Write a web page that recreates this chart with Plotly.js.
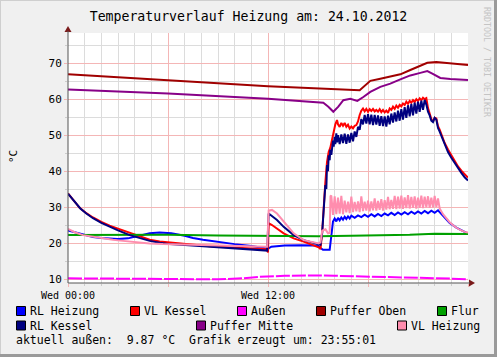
<!DOCTYPE html>
<html>
<head>
<meta charset="utf-8">
<script src="https://cdn.plot.ly/plotly-3.0.1.min.js"></script>
<style>
html,body{margin:0;padding:0;background:#F0F0F0;}
#chart{width:497px;height:357px;}
</style>
</head>
<body>
<div id="chart"></div>
<script>
// ---------- data (hours since Wed 00:00, °C) ----------
const seriesNames = ["RL Heizung","VL Kessel","Außen","Puffer Oben","Flur","RL Kessel","Puffer Mitte","VL Heizung"];
const seriesColors = ["#0000FF","#FF0000","#FF00FF","#A00000","#00A000","#000080","#880088","#FF8DAE"];

const tRlHeizung = [0,0.5,1,1.5,2,2.5,3,3.6,4.2,4.9,5.5,6.2,7,7.5,8.1,8.7,9.4,10,11,11.9,12.0,12.2,13,14,15.0,15.15,15.3,15.7,15.78,15.85,
  15.9,16.0,16.1,16.2,16.3,16.4,16.5,16.6,16.7,16.8,16.9,17.0,17.2,17.4,17.6,17.8,18.0,18.2,18.4,18.6,18.8,19.0,19.2,19.4,19.6,19.8,
  20.0,20.2,20.4,20.6,20.8,21.0,21.2,21.4,21.6,21.8,22.0,22.2,22.35,22.6,22.9,23.3,23.7,24.0];
const rlHeizung = [23.5,22.9,22.2,21.7,21.4,21.2,21.1,21.3,22.0,22.7,22.9,22.7,22.0,21.4,20.9,20.5,20.1,19.7,19.2,18.6,18.4,19.0,19.3,19.4,19.3,18.6,18.1,18.1,21.5,25.4,
  26.0,26.8,26.0,27.0,26.3,27.1,26.5,27.3,26.7,27.4,26.8,27.6,27.0,27.7,27.2,27.9,27.3,28.0,27.4,28.1,27.5,28.2,27.7,28.4,27.8,28.5,
  27.9,28.6,28.0,28.7,28.1,28.8,28.2,28.9,28.3,29.0,28.4,29.1,28.3,26.9,25.6,24.3,23.2,22.6];

const tVlKessel = [0,0.3,0.7,1.1,1.5,2.0,2.5,3.0,3.7,4.3,4.9,5.5,6.1,6.8,7.5,8.5,9.6,11.0,11.9,12.0,12.04,12.24,12.54,12.94,13.54,14.14,15.04,15.15,15.25,15.34,15.44,15.54,15.64,15.74,15.84,15.94,
  16.04,16.14,16.2,16.3,16.4,16.5,16.6,16.7,16.8,16.9,17.0,17.1,17.2,17.3,17.4,17.5,17.6,17.7,17.8,17.9,18.0,18.1,18.2,18.3,18.4,18.5,18.6,18.7,18.8,18.9,
  19.0,19.1,19.2,19.3,19.4,19.5,19.6,19.7,19.8,19.9,20.0,20.1,20.2,20.3,20.4,20.5,20.6,20.7,20.8,20.9,21.0,21.1,21.2,21.3,21.4,21.5,21.6,21.7,21.8,21.9,
  22.0,22.1,22.2,22.3,22.4,22.6,22.8,23.0,23.2,23.4,23.6,23.8,24.0];
const vlKessel = [33.8,32.0,29.8,28.3,27.1,25.9,24.8,24.0,22.9,21.8,20.9,20.4,20.1,19.8,19.5,19.1,18.8,18.6,18.3,17.4,25.5,25.0,24.1,22.7,21.3,20.4,18.8,18.3,23.0,31.0,36.8,42.5,45.3,46.5,48.5,51.4,
  53.0,54.2,53.0,52.3,53.4,52.6,53.4,52.3,52.9,51.8,52.4,51.9,52.6,52.8,53.8,55.6,56.8,57.4,56.6,57.3,56.5,57.2,56.7,57.3,56.6,57.0,56.5,57.2,56.4,57.0,
  56.3,56.8,56.2,57.4,57.0,57.9,57.3,58.2,57.6,58.4,58.0,58.8,58.4,59.3,58.7,59.5,59.0,59.7,59.2,60.0,59.5,60.2,59.7,60.4,60.0,60.3,57.5,56.0,54.5,53.8,
  54.8,54.6,52.5,51.5,50.2,47.8,46.0,44.3,42.8,41.3,40.1,39.0,38.2];

const tAussen = [0,2,4,6,9,10.5,11.5,13,14,15,16,17,18,20,22,23,24];
const aussen  = [10.2,10.1,10.0,9.9,9.9,10.2,10.6,10.9,11.0,11.0,10.9,10.8,10.6,10.5,10.3,10.1,9.87];

const tPufferOben = [0,6,12,17.5,17.7,18.14,18.74,19.34,19.94,20.54,21.14,21.56,22.1,22.9,24];
const pufferOben  = [66.9,65.3,63.6,62.5,63.4,65.1,65.7,66.4,66.9,68.1,69.2,70.1,70.3,69.9,69.5];

const tFlur = [0,3,6,9,12,15,17,19,20.5,22,24];
const flur  = [22.2,22.3,22.3,22.1,21.9,21.9,22.0,22.1,22.3,22.6,22.5];

const tRlKessel = [0,0.3,0.74,1.1,1.5,2.0,2.5,3.0,3.7,4.3,4.9,5.5,6.1,6.8,7.5,8.5,9.6,11.0,11.95,12.04,12.15,12.54,12.94,13.54,14.14,15.04,15.15,15.25,15.34,15.4,15.44,15.5,15.54,15.6,15.64,15.7,15.74,15.8,15.84,15.9,15.94,
  16.0,16.04,16.1,16.14,16.2,16.3,16.4,16.5,16.6,16.7,16.8,16.9,17.0,17.1,17.2,17.3,17.4,17.5,17.6,17.7,17.8,17.9,18.0,18.1,18.2,18.3,18.4,18.5,18.6,18.7,18.8,18.9,
  19.0,19.1,19.2,19.3,19.4,19.5,19.6,19.7,19.8,19.9,20.0,20.1,20.2,20.3,20.4,20.5,20.6,20.7,20.8,20.9,21.0,21.1,21.2,21.3,21.4,21.5,21.6,21.7,21.8,21.9,
  22.0,22.1,22.2,22.3,22.4,22.6,22.8,23.0,23.2,23.4,23.6,23.8,24.0];
const rlKessel = [33.7,31.9,29.6,28.2,26.9,25.6,24.5,23.5,22.2,21.3,20.6,20.1,19.7,19.5,19.3,18.9,18.5,18.2,17.9,28.2,27.8,26.4,24.5,22.2,20.8,19.7,19.5,22.8,30.6,33.5,36.1,35.0,41.7,40.0,44.4,43.0,46.0,44.5,47.2,48.5,46.8,
  49.5,47.5,50.5,48.0,50.0,47.5,50.2,47.8,50.4,47.6,50.2,47.9,50.6,48.3,51.0,49.5,52.3,51.5,54.5,53.0,55.6,53.2,55.8,53.0,55.7,52.8,55.6,52.9,55.5,52.6,55.3,52.5,
  55.2,52.4,55.4,53.0,56.0,53.5,56.3,53.8,56.8,54.0,57.2,54.3,57.8,54.8,58.3,55.2,58.7,55.5,59.0,56.0,59.3,56.5,59.6,57.0,59.8,58.5,56.5,55.5,54.0,53.6,
  54.8,54.3,52.0,51.0,49.8,47.2,45.3,43.7,42.2,40.7,39.5,38.3,37.4];

const tPufferMitte = [0,6,12,15.0,15.32,15.62,15.92,16.22,16.52,16.94,17.36,17.72,18.14,18.74,19.34,19.94,20.54,21.14,21.56,21.86,22.34,22.94,24];
const pufferMitte  = [62.7,61.6,60.1,59.1,59.0,57.9,56.5,57.9,59.7,60.1,59.5,60.6,62.0,63.4,64.3,65.5,66.6,67.3,67.8,67.1,65.9,65.6,65.3];

const tVlHeizung = [0,0.4,0.9,1.5,2.1,2.7,3.3,4.1,4.9,5.7,6.5,7.6,8.7,10.1,11.95,12.04,12.24,12.54,12.94,13.54,14.14,15.04,15.15,15.25,15.45,15.6,15.7,15.75,
  15.8,15.9,16.0,16.1,16.2,16.3,16.4,16.5,16.6,16.7,16.8,16.9,17.0,17.1,17.2,17.3,17.4,17.5,17.6,17.7,17.8,17.9,18.0,18.1,18.2,18.3,18.4,18.5,18.6,18.7,18.8,18.9,
  19.0,19.1,19.2,19.3,19.4,19.5,19.6,19.7,19.8,19.9,20.0,20.1,20.2,20.3,20.4,20.5,20.6,20.7,20.8,20.9,21.0,21.1,21.2,21.3,21.4,21.5,21.6,21.7,21.8,21.9,
  22.0,22.1,22.2,22.3,22.5,22.7,22.9,23.2,23.5,23.8,24.0];
const vlHeizung = [23.9,23.0,22.2,21.7,21.3,20.9,20.6,20.2,19.9,19.7,19.6,19.5,19.4,19.2,19.0,29.0,29.2,28.2,25.9,22.7,20.8,19.9,20.2,23.4,23.8,22.7,22.8,33.0,
  33.2,27.8,33.0,28.0,32.6,28.2,33.1,28.0,31.8,28.5,31.5,28.3,32.9,28.6,31.4,28.8,31.6,28.6,33.0,28.9,31.5,29.0,31.8,28.8,31.6,29.1,32.4,29.0,31.7,29.2,32.2,29.0,
  31.9,29.3,32.8,29.4,32.0,29.5,33.1,29.4,32.9,29.6,33.2,29.5,32.7,29.7,33.3,29.6,32.8,29.8,33.0,29.6,32.6,29.8,33.2,29.7,32.9,29.9,33.0,29.8,32.6,29.9,
  33.1,30.0,32.4,29.6,28.0,26.8,25.8,24.6,23.7,23.1,22.9];

const xTickVals = [0,6,12,18,24];
const xTickText = ["Wed 00:00","","Wed 12:00","",""];
const yTickVals = [10,20,30,40,50,60,70];
const titleText = "Temperaturverlauf Heizung am: 24.10.2012";
const yLabel = "°C";
const footerText = "aktuell außen:  9.87 °C  Grafik erzeugt um: 23:55:01";
const watermark = "RRDTOOL / TOBI OETIKER";

// ---------- geometry ----------
const L = 68, T = 33, W = 400, H = 250, FW = 497, FH = 357;
const px = x => (x - L) / W;
const py = y => (T + H - y) / H;
const MONO = "DejaVu Sans Mono, monospace";

const xs = [tRlHeizung,tVlKessel,tAussen,tPufferOben,tFlur,tRlKessel,tPufferMitte,tVlHeizung];
const ys = [rlHeizung,vlKessel,aussen,pufferOben,flur,rlKessel,pufferMitte,vlHeizung];

const traces = seriesNames.map((n,i) => ({
  type: "scatter", mode: "lines", name: n, x: xs[i], y: ys[i],
  line: {color: seriesColors[i], width: 2, dash: i === 2 ? "14px,2px" : "solid"},
  hoverinfo: "skip", showlegend: false
}));

const shapes = [];
const annotations = [];

// border
shapes.push({type:"line",xref:"paper",yref:"paper",x0:px(0.5),x1:px(0.5),y0:py(0),y1:py(FH),line:{color:"#CFCFCF",width:1}});
shapes.push({type:"line",xref:"paper",yref:"paper",x0:px(0),x1:px(FW),y0:py(0.5),y1:py(0.5),line:{color:"#CFCFCF",width:1}});
shapes.push({type:"line",xref:"paper",yref:"paper",x0:px(FW-1.5),x1:px(FW-1.5),y0:py(0),y1:py(FH),line:{color:"#9A9A9A",width:3}});
shapes.push({type:"line",xref:"paper",yref:"paper",x0:px(0),x1:px(FW),y0:py(FH-1.5),y1:py(FH-1.5),line:{color:"#9A9A9A",width:3}});

// axis arrows
shapes.push({type:"path",xref:"paper",yref:"paper",
  path:`M ${px(L-3.5)} ${py(T-1)} L ${px(L+3.5)} ${py(T-1)} L ${px(L)} ${py(T-7)} Z`,
  fillcolor:"#7A1A1A",line:{color:"#7A1A1A",width:0}});
shapes.push({type:"path",xref:"paper",yref:"paper",
  path:`M ${px(L+W+1)} ${py(T+H-3.5)} L ${px(L+W+1)} ${py(T+H+3.5)} L ${px(L+W+7)} ${py(T+H)} Z`,
  fillcolor:"#7A1A1A",line:{color:"#7A1A1A",width:0}});
shapes.push({type:"line",xref:"paper",yref:"paper",x0:px(L),x1:px(L),y0:py(T+H),y1:py(T-2),line:{color:"#555",width:1}});
shapes.push({type:"line",xref:"paper",yref:"paper",x0:px(L),x1:px(L+W+2),y0:py(T+H),y1:py(T+H),line:{color:"#555",width:1}});

// legend
const legendPos = [
  [16,311],[130,311],[237,311],[316,311],[437,311],
  [16,325.5],[196,325.5],[397,325.5]
];
const legendOrder = [0,1,2,3,4,5,6,7];
legendOrder.forEach((si,k) => {
  const [sx,sy] = legendPos[k];
  shapes.push({type:"rect",xref:"paper",yref:"paper",
    x0:px(sx+0.5),x1:px(sx+9.5),y0:py(sy-4.5),y1:py(sy+4.5),
    fillcolor:seriesColors[si],line:{color:"#000",width:1}});
  annotations.push({xref:"paper",yref:"paper",x:px(sx+13),y:py(sy),xanchor:"left",yanchor:"middle",
    text:seriesNames[si],showarrow:false,borderpad:0,font:{family:MONO,size:11.5,color:"#000"}});
});
annotations.push({xref:"paper",yref:"paper",x:px(15),y:py(339.5),xanchor:"left",yanchor:"middle",
  text:footerText.replace(/ /g,"\u00A0"),showarrow:false,borderpad:0,font:{family:MONO,size:11.5,color:"#000"}});
annotations.push({xref:"paper",yref:"paper",x:px(13),y:py(156),xanchor:"center",yanchor:"middle",
  text:yLabel,textangle:-90,showarrow:false,borderpad:0,font:{family:MONO,size:11,color:"#000"}});
annotations.push({xref:"paper",yref:"paper",x:px(487),y:py(62),xanchor:"center",yanchor:"middle",
  text:watermark,textangle:90,showarrow:false,borderpad:0,font:{family:MONO,size:8.3,color:"#C4C4C4"}});

const layout = {
  width: FW, height: FH,
  paper_bgcolor: "#F0F0F0", plot_bgcolor: "#FFFFFF",
  margin: {l: L, r: FW - L - W, t: T, b: FH - T - H, pad: 0},
  title: {text: titleText, x: 0.5, xref: "container", y: 1 - 16.5/FH, yref: "container",
          xanchor: "center", yanchor: "middle", font: {family: MONO, size: 13.2, color: "#000"}},
  showlegend: false,
  xaxis: {range: [0,24], tickmode: "array", tickvals: xTickVals, ticktext: xTickText,
    showgrid: true, gridcolor: "#F4B6B6", gridwidth: 1, zeroline: false, showline: false,
    ticks: "outside", ticklen: 3, tickcolor: "#F4B6B6",
    minor: {dtick: 1, tick0: 0, showgrid: true, gridcolor: "#DCDCDC", ticks: "outside", ticklen: 2, tickcolor: "#CCCCCC"},
    tickfont: {family: MONO, size: 10, color: "#000"}, fixedrange: true},
  yaxis: {range: [8.89, 78.39], tickmode: "array", tickvals: yTickVals,
    showgrid: true, gridcolor: "#F4B6B6", gridwidth: 1, zeroline: false, showline: false,
    ticks: "outside", ticklen: 3, tickcolor: "#F4B6B6",
    minor: {dtick: 5, tick0: 0, showgrid: true, gridcolor: "#DCDCDC", ticks: "outside", ticklen: 2, tickcolor: "#CCCCCC"},
    tickfont: {family: MONO, size: 11, color: "#000"}, fixedrange: true},
  shapes: shapes,
  annotations: annotations
};

Plotly.newPlot("chart", traces, layout, {displayModeBar: false, staticPlot: true});
</script>
</body>
</html>
